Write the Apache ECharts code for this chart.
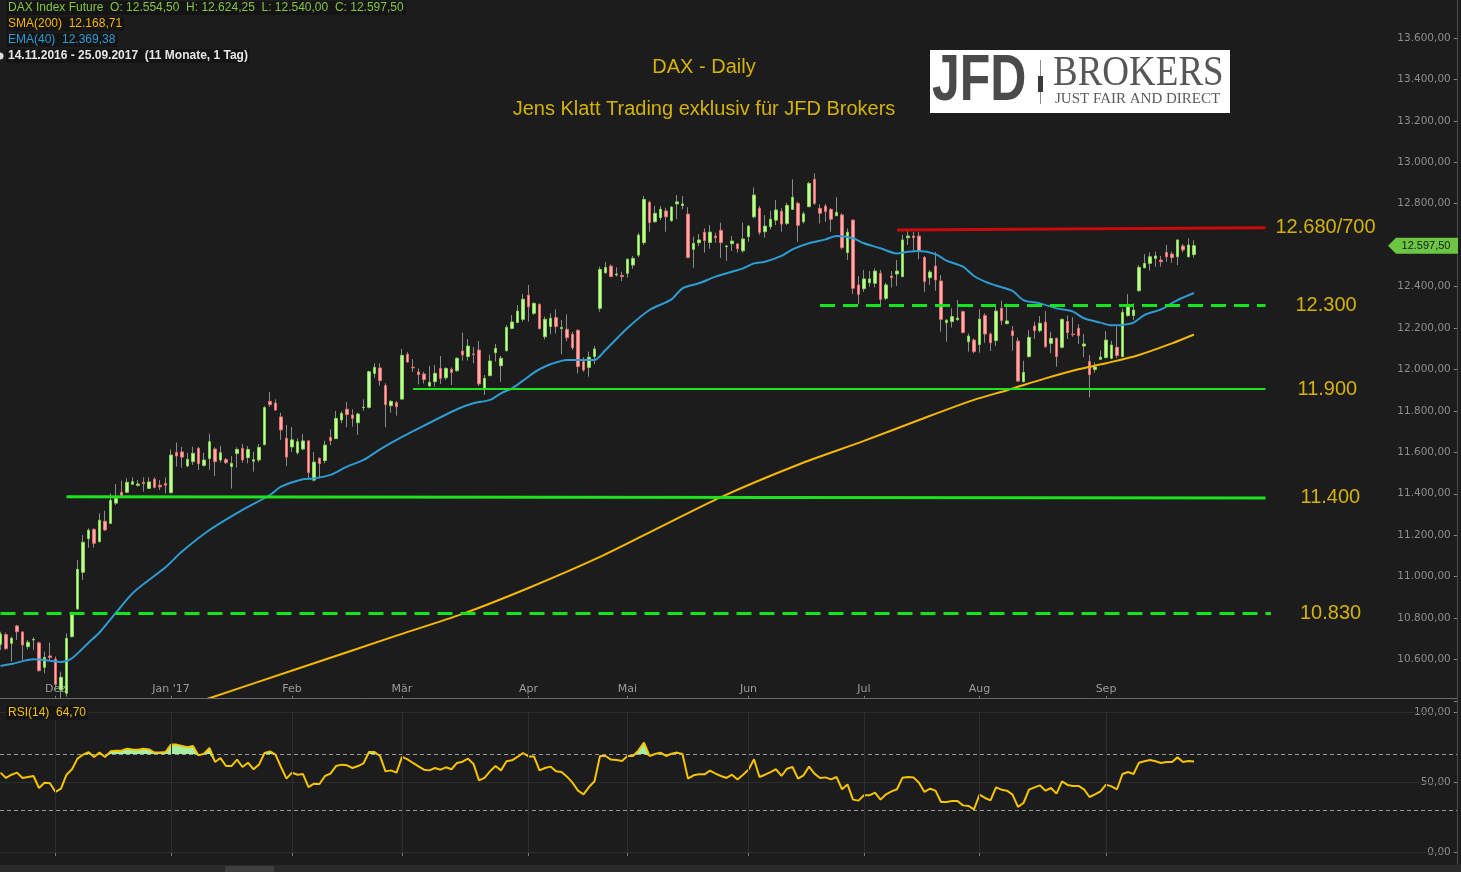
<!DOCTYPE html>
<html><head><meta charset="utf-8">
<script src="https://cdn.jsdelivr.net/npm/echarts@6/dist/echarts.min.js"></script>
<style>html,body{margin:0;padding:0;background:#1c1c1c;overflow:hidden}#c{width:1461px;height:872px}</style>
</head><body><div id="c"></div>
<script>
// ---------------- DATA ----------------
const tradingDays = {
  '2016-11': [17,18,21,22,23,24,25,28,29,30],
  '2016-12': [1,2,5,6,7,8,9,12,13,14,15,16,19,20,21,22,23,27,28,29,30],
  '2017-01': [2,3,4,5,6,9,10,11,12,13,16,17,18,19,20,23,24,25,26,27,30,31],
  '2017-02': [1,2,3,6,7,8,9,10,13,14,15,16,17,20,21,22,23,24,27,28],
  '2017-03': [1,2,3,6,7,8,9,10,13,14,15,16,17,20,21,22,23,24,27,28,29,30,31],
  '2017-04': [3,4,5,6,7,10,11,12,13,18,19,20,21,24,25,26,27,28],
  '2017-05': [2,3,4,5,8,9,10,11,12,15,16,17,18,19,22,23,24,25,26,29,30,31],
  '2017-06': [1,2,6,7,8,9,12,13,14,15,16,19,20,21,22,23,26,27,28,29,30],
  '2017-07': [3,4,5,6,7,10,11,12,13,14,17,18,19,20,21,24,25,26,27,28,31],
  '2017-08': [1,2,3,4,7,8,9,10,11,14,15,16,17,18,21,22,23,24,25,28,29,30,31],
  '2017-09': [1,4,5,6,7,8,11,12,13,14,15,18,19,20,21,22,25]
};
const futureSlots = 36; // empty days to the right of the last candle

// daily candles: [open, high, low, close]
const ohlc = [
[10673,10734,10646,10723],[10720,10730,10646,10652],[10678,10710,10590,10702],[10762,10767,10694,10734],[10733,10734,10598,10670],
[10662,10694,10649,10683],[10694,10707,10646,10697],[10680,10686,10541,10546],[10562,10638,10533,10610],[10617,10681,10598,10609],
[10602,10614,10453,10480],[10453,10541,10413,10514],[10437,10726,10421,10702],[10710,10831,10707,10820],[10844,11080,10839,11035],
[11021,11201,10984,11166],[11183,11233,11140,11224],[11228,11233,11140,11161],[11169,11306,11164,11272],[11267,11318,11220,11225],
[11257,11402,11254,11368],[11355,11447,11346,11378],[11407,11463,11378,11391],[11407,11474,11404,11455],[11446,11479,11442,11458],
[11441,11466,11434,11447],[11455,11479,11410,11449],[11426,11479,11423,11457],[11470,11479,11426,11431],[11441,11466,11418,11433],
[11450,11479,11402,11441],[11405,11614,11402,11587],[11600,11647,11531,11582],[11602,11627,11526,11577],[11534,11598,11528,11566],
[11555,11627,11539,11595],[11619,11626,11515,11545],[11537,11598,11531,11563],[11570,11690,11515,11651],[11616,11624,11486,11555],
[11563,11631,11550,11598],[11565,11573,11544,11550],[11531,11582,11425,11547],[11594,11624,11526,11614],[11619,11640,11550,11563],
[11574,11630,11547,11614],[11557,11602,11507,11564],[11563,11640,11552,11624],[11637,11824,11634,11816],[11846,11891,11820,11830],
[11838,11856,11801,11804],[11771,11791,11660,11708],[11668,11732,11534,11577],[11626,11722,11602,11660],[11598,11667,11589,11651],
[11616,11688,11610,11655],[11655,11660,11466,11502],[11466,11602,11460,11553],[11571,11576,11473,11545],[11560,11656,11547,11635],
[11672,11711,11634,11656],[11666,11800,11666,11764],[11756,11798,11740,11788],[11808,11843,11721,11782],[11780,11808,11724,11764],
[11743,11792,11684,11785],[11816,11856,11801,11818],[11817,11994,11812,11989],[11981,12030,11960,12010],[12007,12030,11922,11946],
[11922,11933,11721,11830],[11825,11852,11791,11846],[11840,11848,11777,11820],[11857,12099,11853,12068],[12073,12084,12033,12036],
[12011,12050,11988,12008],[11988,12005,11928,11975],[11978,11989,11932,11951],[11920,12017,11917,11938],[11941,12022,11917,11981],
[12005,12065,11930,11957],[11960,12010,11949,12005],[12001,12010,11925,11985],[11994,12059,11989,12054],[12089,12178,12043,12070],
[12062,12147,12043,12113],[12075,12108,12030,12072],[12094,12137,11920,11930],[11904,11973,11877,11957],[11970,12071,11968,12041],
[12081,12123,12038,12102],[12018,12065,11941,12054],[12091,12215,12086,12203],[12198,12263,12194,12229],[12227,12311,12223,12282],
[12242,12364,12231,12339],[12359,12408,12231,12303],[12271,12324,12263,12319],[12314,12319,12194,12197],[12158,12255,12145,12242],
[12207,12271,12170,12247],[12250,12290,12174,12207],[12197,12239,12073,12203],[12194,12266,12137,12153],[12170,12182,12094,12105],
[12189,12194,11981,12014],[12038,12059,11989,11997],[12010,12086,11965,12059],[12062,12113,12026,12099],[12295,12496,12279,12483],
[12467,12519,12461,12493],[12499,12507,12448,12448],[12456,12493,12448,12461],[12454,12472,12427,12448],[12464,12536,12443,12532],
[12504,12548,12486,12536],[12552,12660,12541,12649],[12612,12837,12601,12821],[12807,12815,12665,12709],[12713,12789,12709,12754],
[12733,12789,12721,12773],[12765,12781,12665,12737],[12718,12789,12713,12784],[12799,12842,12726,12809],[12791,12837,12773,12799],
[12750,12783,12538,12540],[12580,12641,12491,12609],[12612,12654,12596,12625],[12663,12681,12564,12622],[12613,12697,12583,12663],
[12644,12660,12612,12636],[12672,12709,12538,12612],[12593,12601,12525,12596],[12607,12644,12572,12620],[12606,12609,12564,12583],
[12573,12709,12564,12630],[12641,12697,12617,12692],[12737,12878,12729,12842],[12778,12789,12649,12662],[12665,12745,12636,12692],
[12689,12766,12676,12725],[12721,12818,12697,12770],[12763,12778,12665,12702],[12705,12805,12697,12792],[12773,12918,12770,12831],
[12802,12810,12617,12696],[12713,12762,12705,12751],[12786,12906,12783,12898],[12918,12947,12794,12802],[12778,12797,12705,12754],
[12789,12799,12713,12762],[12773,12778,12665,12725],[12742,12831,12741,12758],[12746,12754,12580,12588],[12564,12681,12528,12663],
[12721,12725,12364,12392],[12408,12451,12316,12363],[12390,12480,12375,12437],[12419,12475,12400,12437],[12416,12488,12396,12475],
[12464,12480,12316,12338],[12343,12419,12335,12408],[12451,12475,12396,12443],[12461,12528,12403,12475],[12448,12649,12445,12625],
[12636,12668,12601,12644],[12644,12665,12569,12636],[12644,12665,12532,12572],[12541,12548,12375,12424],[12443,12480,12408,12470],
[12499,12567,12380,12432],[12427,12456,12182,12242],[12226,12242,12134,12238],[12231,12295,12203,12255],[12240,12335,12236,12248],
[12279,12284,12174,12178],[12134,12174,12086,12161],[12142,12150,12078,12086],[12120,12290,12081,12243],[12260,12271,12129,12171],
[12171,12178,12089,12129],[12139,12316,12113,12282],[12295,12332,12215,12236],[12221,12319,12218,12234],[12186,12210,12091,12163],
[12137,12154,11940,11944],[11941,12042,11938,11986],[12062,12190,12057,12155],[12210,12231,12147,12187],[12187,12258,12179,12223],
[12228,12282,12105,12110],[12126,12182,12078,12150],[12150,12155,12014,12062],[12107,12245,12102,12242],[12231,12260,12147,12178],
[12171,12252,12158,12168],[12199,12219,12123,12163],[12113,12171,12059,12123],[12039,12070,11865,11975],[12000,12034,11985,12012],
[12049,12091,12046,12060],[12057,12186,12054,12142],[12054,12139,12049,12118],[12107,12207,12054,12067],[12062,12295,12059,12276],
[12260,12364,12255,12314],[12260,12319,12239,12287],[12380,12504,12376,12493],[12491,12557,12488,12512],[12512,12565,12477,12544],
[12536,12569,12496,12548],[12528,12548,12496,12520],[12565,12601,12519,12544],[12557,12569,12515,12540],[12544,12628,12504,12625],
[12596,12606,12565,12577],[12544,12633,12541,12601],[12554.5,12624.25,12540,12597.5]
];

// EMA(40), read at sampled days: [day index, value]
const ema40Pts = [
[0,10569],[2,10578],[6,10601],[9,10594],[11,10588],[13,10606],[16,10681],[18,10730],[21,10826],[24,10919],
[27,10984],[30,11045],[33,11121],[38,11225],[44,11322],[49,11394],[51,11434],[55,11470],[57,11474],[60,11491],
[63,11531],[66,11563],[69,11614],[72,11660],[74,11688],[83,11808],[86,11837],[89,11853],[91,11885],[93,11909],
[95,11946],[97,11985],[98,12001],[100,12025],[103,12046],[105,12046],[108,12046],[110,12094],[114,12200],[118,12287],
[122,12338],[124,12392],[127,12416],[130,12448],[133,12472],[135,12488],[137,12512],[139,12520],[142,12548],[144,12580],
[147,12609],[150,12628],[152,12644],[155,12633],[157,12609],[160,12585],[163,12560],[165,12568],[167,12572],[170,12557],
[172,12525],[175,12496],[177,12451],[179,12424],[181,12405],[184,12379],[186,12335],[189,12319],[192,12295],[195,12279],
[197,12247],[200,12226],[202,12213],[204,12215],[206,12226],[208,12263],[211,12290],[214,12335],[217,12369.38]
];

// SMA(200), read at sampled days: [day index, value]
const sma200Pts = [
[35,10385],[37,10404],[54,10555],[72,10715],[84,10820],[96,10945],[109,11095],[120,11240],[131,11384],[145,11540],
[157,11655],[167,11756],[177,11853],[183,11900],[190,11957],[196,12001],[201,12030],[207,12070],[213,12126],[217,12168.71]
];

// RSI(14), one value per day
const rsi14 = [
56.7,52.9,55.2,56.7,52.9,53.6,54.3,45.7,49.5,49.1,
42.9,45.2,55.2,59.1,66.7,69.5,71.4,67.9,71.0,67.9,
71.9,72.4,72.4,73.8,73.3,73.1,73.8,73.3,71.0,71.0,
71.4,76.7,76.7,75.7,74.8,75.7,69.0,70.2,74.3,64.3,
67.1,61.4,61.4,66.0,60.7,63.8,59.1,62.4,70.7,71.9,
69.5,60.7,52.4,56.7,55.2,55.7,46.4,48.8,48.6,54.3,
56.0,61.4,62.4,61.9,60.0,61.4,63.3,71.4,71.4,68.6,
57.6,58.3,56.7,67.9,66.2,63.6,61.2,58.8,58.3,60.0,
58.8,60.5,59.1,63.6,64.5,66.7,62.9,51.2,52.9,57.6,
61.4,58.3,64.8,65.5,67.9,70.7,68.3,68.3,58.3,60.0,
61.0,57.6,57.1,53.8,49.5,43.8,41.2,46.4,50.5,68.6,
68.6,66.0,65.7,65.0,68.6,68.6,72.6,78.1,68.6,70.0,
71.0,68.6,70.2,71.0,70.0,52.4,54.8,55.5,55.5,58.1,
56.0,54.3,52.9,55.2,51.7,55.2,58.8,66.2,53.6,55.2,
57.1,59.1,54.3,59.5,60.7,52.4,54.8,61.0,56.0,52.9,
53.3,51.9,53.6,44.8,48.3,37.4,36.7,40.5,40.5,42.4,
37.4,41.2,43.3,44.8,53.1,53.6,53.3,49.5,42.9,45.2,
43.8,35.7,35.7,36.4,36.4,33.3,32.9,30.5,41.0,38.6,
36.9,46.2,44.5,43.8,41.0,32.2,35.0,44.5,46.2,47.6,
43.8,45.7,41.7,50.5,47.9,47.2,47.2,44.8,39.3,41.2,
43.3,48.1,46.9,44.8,55.7,57.1,55.7,63.8,64.8,65.7,
64.8,63.6,64.3,64.3,67.6,64.3,65.0,64.7
];
const rsiBands = [70, 30];

// drawn support / resistance levels
const levelText = ['12.680/700', '12.300', '11.900', '11.400', '10.830'];
const levelFromDay = [163, 149, 75, 12, 0];
const levelToDay = [230, 230, 230, 230, 231];
const levelFromPrice = [12673, 12308, 11905, 11385, 10823];
const levelToPrice = [12684, 12308, 11905, 11380, 10823];

const instrument = 'DAX Index Future';
const periodText = '14.11.2016 - 25.09.2017  (11 Monate, 1 Tag)';
const titleLines = ['DAX - Daily', 'Jens Klatt Trading exklusiv für JFD Brokers'];

// ---------------- HELPERS ----------------
function de(v, d) {
  const s = Number(v).toFixed(d);
  const parts = s.split('.');
  return parts[0].replace(/\B(?=(\d{3})+(?!\d))/g, '.') + (parts[1] ? ',' + parts[1] : '');
}
const dates = [];
Object.keys(tradingDays).forEach(m => tradingDays[m].forEach(d => dates.push(m + '-' + String(d).padStart(2, '0'))));
const cats = dates.concat(Array.from({length: futureSlots}, (_, k) => 'f' + k));
const monthNames = ['Jan','Feb','Mär','Apr','Mai','Jun','Jul','Aug','Sep','Okt','Nov','Dez'];
const monthLabel = {};
for (let i = 1; i < dates.length; i++) {
  if (dates[i].slice(0, 7) !== dates[i - 1].slice(0, 7)) {
    const mi = +dates[i].slice(5, 7) - 1;
    monthLabel[i] = monthNames[mi] + (mi === 0 ? " '" + dates[i].slice(2, 4) : '');
  }
}
const isMonth = (i) => monthLabel[i] !== undefined;

const wickData = ohlc.map(r => [r[0], r[3], r[2], r[1]]);
const bodyData = ohlc.map(r => [r[0], r[3], Math.min(r[0], r[3]), Math.max(r[0], r[3])]);
const last = ohlc[ohlc.length - 1];

const FONT = 'Liberation Sans';
const AXFONT = 'DejaVu Sans';
const GOLD = '#d4b20a';
const levelStyle = [
  {color: '#cc0a0a', width: 3, type: 'solid', gap: 10},
  {color: '#12e61a', width: 3, type: [15, 8], gap: 30},
  {color: '#1ee21e', width: 2, type: 'solid', gap: 32},
  {color: '#1ee21e', width: 3, type: 'solid', gap: 35},
  {color: '#12e61a', width: 3, type: [15, 8], gap: 29}
];

const gridW = cats.length * 5.5;
const chart = echarts.init(document.getElementById('c'));
chart.setOption({
  backgroundColor: '#1c1c1c',
  animation: false,
  textStyle: {fontFamily: FONT},
  grid: [
    {left: -2.25, top: -3.4, width: gridW, height: 704.3, containLabel: false, outerBoundsMode: 'none'},
    {left: -2.25, top: 712, width: gridW, height: 140, containLabel: false, outerBoundsMode: 'none'}
  ],
  xAxis: [
    {type: 'category', gridIndex: 0, data: cats, boundaryGap: true,
     axisLine: {show: false},
     axisTick: {show: true, alignWithLabel: true, inside: true, length: 5, interval: isMonth, lineStyle: {color: '#777'}},
     axisLabel: {show: true, inside: true, margin: 6, interval: isMonth, formatter: (v, i) => monthLabel[i] || '',
                 color: '#9b9b9b', fontSize: 11, fontFamily: AXFONT},
     splitLine: {show: false}},
    {type: 'category', gridIndex: 1, data: cats, boundaryGap: true, offset: 11,
     axisLine: {show: false},
     axisTick: {show: true, alignWithLabel: true, length: 4, interval: isMonth, lineStyle: {color: '#777'}},
     axisLabel: {show: false}, splitLine: {show: false}}
  ],
  yAxis: [
    {type: 'value', gridIndex: 0, position: 'right', min: 10400, max: 13800, interval: 200,
     axisLine: {show: false}, axisTick: {show: false}, splitLine: {show: false},
     axisLabel: {color: '#8d8d8d', fontSize: 10.5, align: 'right', margin: 56, fontFamily: AXFONT,
                 formatter: v => v <= 10400 ? '' : de(v, 2)}},
    {type: 'value', gridIndex: 0, position: 'right', offset: 59, min: 10400, max: 13800, interval: 200,
     axisLine: {show: false}, axisTick: {show: true, length: 4, lineStyle: {color: '#888'}},
     axisLabel: {show: false}, splitLine: {show: false}},
    {type: 'value', gridIndex: 1, position: 'right', min: 0, max: 100, interval: 50,
     axisLine: {show: false}, axisTick: {show: false}, splitLine: {show: false},
     axisLabel: {color: '#8d8d8d', fontSize: 10.5, align: 'right', margin: 56, fontFamily: AXFONT, formatter: v => de(v, 2)}},
    {type: 'value', gridIndex: 1, position: 'right', offset: 59, min: 0, max: 100, interval: 50,
     axisLine: {show: false}, axisTick: {show: true, length: 4, lineStyle: {color: '#888'}},
     axisLabel: {show: false}, splitLine: {show: false}}
  ],
  series: [
    {type: 'candlestick', name: 'wick', xAxisIndex: 0, yAxisIndex: 0, data: wickData, barWidth: 1,
     itemStyle: {color: '#8a8a8a', color0: '#8a8a8a', borderColor: '#8a8a8a', borderColor0: '#8a8a8a', borderWidth: 1},
     z: 2},
    {type: 'candlestick', name: 'body', xAxisIndex: 0, yAxisIndex: 0, data: bodyData, barWidth: 3,
     itemStyle: {color: '#c6f5a3', color0: '#ffadad', borderColor: '#80d84a', borderColor0: '#ea6b6b', borderWidth: 1},
     z: 3},
    {type: 'line', name: 'SMA(200)', xAxisIndex: 0, yAxisIndex: 0, data: sma200Pts, smooth: 0.3, showSymbol: false,
     lineStyle: {color: '#f5b800', width: 2}, z: 4},
    {type: 'line', name: 'EMA(40)', xAxisIndex: 0, yAxisIndex: 0, data: ema40Pts, smooth: 0.3, showSymbol: false,
     lineStyle: {color: '#2f9bd3', width: 2}, z: 4},
    {type: 'line', name: 'levels', xAxisIndex: 0, yAxisIndex: 0, data: [], z: 5,
     markLine: {silent: true, symbol: ['none', 'none'], animation: false,
       data: levelText.map((t, k) => [
         {coord: [levelFromDay[k], levelFromPrice[k]],
          lineStyle: {color: levelStyle[k].color, width: levelStyle[k].width, type: levelStyle[k].type},
          label: {show: true, position: 'end', formatter: t, distance: levelStyle[k].gap, color: GOLD,
                  fontSize: 20, fontFamily: FONT}},
         {coord: [levelToDay[k], levelToPrice[k]]}
       ])}},
    {type: 'line', name: 'rsiBase', xAxisIndex: 1, yAxisIndex: 2, stack: 'rsi', data: rsi14.map(v => Math.min(v, rsiBands[0])),
     showSymbol: false, lineStyle: {opacity: 0}, silent: true, z: 2},
    {type: 'line', name: 'rsiOver', xAxisIndex: 1, yAxisIndex: 2, stack: 'rsi', data: rsi14.map(v => Math.max(v - rsiBands[0], 0)),
     showSymbol: false, lineStyle: {opacity: 0}, areaStyle: {color: '#a8eea2', opacity: 1}, silent: true, z: 2},
    {type: 'line', name: 'RSI(14)', xAxisIndex: 1, yAxisIndex: 2, data: rsi14, showSymbol: false,
     lineStyle: {color: '#f5c300', width: 2}, z: 4,
     markLine: {silent: true, symbol: ['none', 'none'], label: {show: false},
       lineStyle: {color: '#2e2e2e', width: 1, type: 'solid'},
       data: Object.keys(monthLabel).map(i => ({xAxis: +i}))}}
  ]
});

// ---------------- ANNOTATIONS ----------------
const py = v => chart.convertToPixel({yAxisIndex: 0}, v);
const ry = v => chart.convertToPixel({yAxisIndex: 2}, v);
const tagY = py(last[3]);
const g = [];
// full-width RSI guide lines
[100, 50, 0].forEach(v => g.push({type: 'line', z: 1, shape: {x1: 0, y1: Math.round(ry(v)) + 0.5, x2: 1445, y2: Math.round(ry(v)) + 0.5},
  style: {stroke: '#2c2c2c', lineWidth: 1}}));
rsiBands.forEach(v => g.push({type: 'line', z: 1, shape: {x1: 0, y1: Math.round(ry(v)) + 0.5, x2: 1458, y2: Math.round(ry(v)) + 0.5},
  style: {stroke: '#9a9a9a', lineWidth: 1, lineDash: [4, 3]}}));
// panel separator
g.push({type: 'rect', z: 50, shape: {x: 0, y: 698.5, width: 1380, height: 4}, style: {fill: '#1c1c1c'}});
g.push({type: 'line', z: 51, shape: {x1: 0, y1: 698.5, x2: 1458, y2: 698.5}, style: {stroke: '#6a6a6a', lineWidth: 1}});
g.push({type: 'line', z: 51, shape: {x1: 1457.5, y1: 0, x2: 1457.5, y2: 866}, style: {stroke: '#4a4a4a', lineWidth: 1}});
// bottom strip
g.push({type: 'rect', z: 51, shape: {x: 0, y: 865, width: 1461, height: 7}, style: {fill: '#2a2a2a'}});
g.push({type: 'rect', z: 52, shape: {x: 225, y: 866, width: 49, height: 6}, style: {fill: '#3e3e3e'}});
// header info
const hdr = [
  {t: instrument + '  O: ' + de(last[0], 2) + '  H: ' + de(last[1], 2) + '  L: ' + de(last[2], 2) + '  C: ' + de(last[3], 2), c: '#84c443', w: 'normal'},
  {t: 'SMA(200)  ' + de(sma200Pts[sma200Pts.length - 1][1], 2), c: '#f2b600', w: 'normal'},
  {t: 'EMA(40)  ' + de(ema40Pts[ema40Pts.length - 1][1], 2), c: '#2f9bd3', w: 'normal'},
  {t: periodText, c: '#e6e6e6', w: 'bold'}
];
hdr.forEach((h, k) => g.push({type: 'text', z: 60, x: 6, y: 8 + k * 16,
  style: {text: h.t, fill: h.c, font: h.w + ' 12px "' + FONT + '"', verticalAlign: 'middle', backgroundColor: '#141414', padding: [1, 2]}}));
g.push({type: 'circle', z: 61, shape: {cx: 0, cy: 56, r: 3.5}, style: {fill: '#dcdcdc'}});
// RSI caption
g.push({type: 'text', z: 60, x: 6, y: 713,
  style: {text: 'RSI(14)  ' + de(rsi14[rsi14.length - 1], 2), fill: '#f2c200', font: '12px "' + FONT + '"', verticalAlign: 'middle', backgroundColor: '#141414', padding: [1, 2]}});
// titles
titleLines.forEach((t, k) => g.push({type: 'text', z: 60, x: 704, y: 67 + k * 42,
  style: {text: t, fill: GOLD, font: '20px "' + FONT + '"', align: 'center', verticalAlign: 'middle'}}));
// logo
g.push({type: 'rect', z: 60, shape: {x: 930, y: 50, width: 300, height: 63}, style: {fill: '#ffffff'}});
g.push({type: 'text', z: 61, x: 932, y: 82, scaleY: 1.28,
  style: {text: 'JFD', fill: '#4a4a4a', font: 'bold 50px "' + FONT + '"', verticalAlign: 'middle'}});
g.push({type: 'line', z: 61, shape: {x1: 1040.5, y1: 60, x2: 1040.5, y2: 104}, style: {stroke: '#8a8a8a', lineWidth: 1}});
g.push({type: 'rect', z: 62, shape: {x: 1038, y: 76, width: 5, height: 16}, style: {fill: '#3a3a3a'}});
g.push({type: 'text', z: 61, x: 1053, y: 74, scaleY: 1.14,
  style: {text: 'BROKERS', fill: '#575757', font: '37px "Liberation Serif"', verticalAlign: 'middle'}});
g.push({type: 'text', z: 61, x: 1055, y: 99,
  style: {text: 'JUST FAIR AND DIRECT', fill: '#5a5a5a', font: '15px "Liberation Serif"', verticalAlign: 'middle'}});
// last price tag
g.push({type: 'polygon', z: 60, shape: {points: [[1388, tagY], [1396, tagY - 8], [1458, tagY - 8], [1458, tagY + 8], [1396, tagY + 8]]},
  style: {fill: '#6cc644'}});
g.push({type: 'text', z: 61, x: 1426, y: tagY,
  style: {text: de(last[3], 2), fill: '#1a1a1a', font: '11px "' + FONT + '"', align: 'center', verticalAlign: 'middle'}});

chart.setOption({graphic: g});
</script>
</body></html>
